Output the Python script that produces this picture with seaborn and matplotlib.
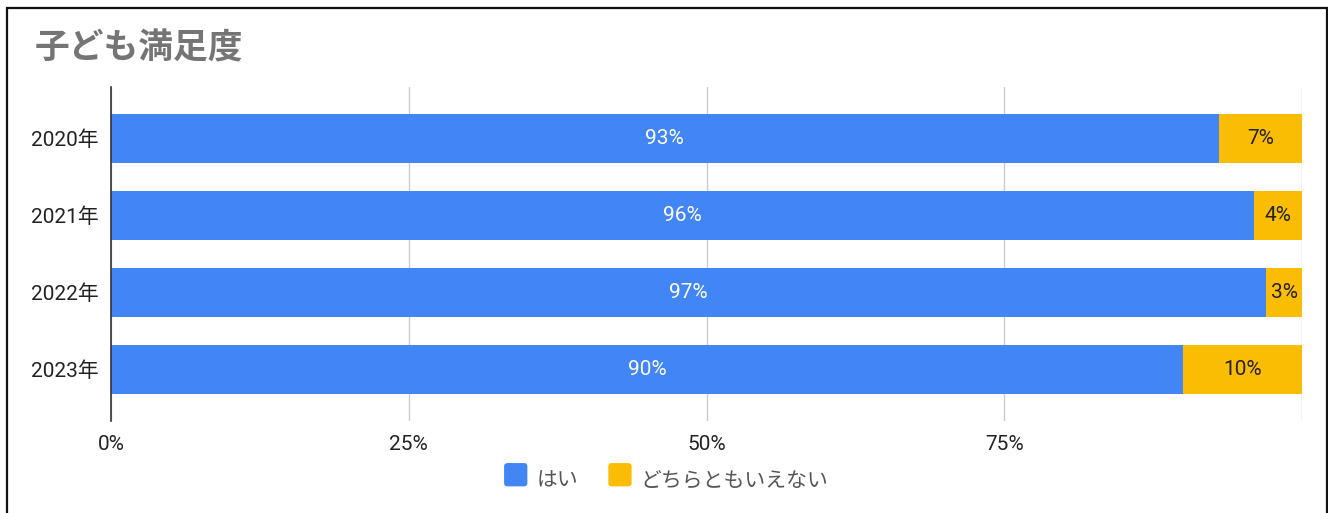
import matplotlib
matplotlib.use("Agg")
import matplotlib.pyplot as plt
import seaborn as sns
import pandas as pd
from matplotlib.patches import Rectangle, FancyBboxPatch
from matplotlib.legend_handler import HandlerPatch

years = ["2020年", "2021年", "2022年", "2023年"]
yes_vals = [93, 96, 97, 90]
neutral_vals = [7, 4, 3, 10]
series_names = ["はい", "どちらともいえない"]
xticks = [0, 25, 50, 75, 100]
xtick_labels = ["0%", "25%", "50%", "75%", ""]
title = "子ども満足度"

BLUE = "#4285F4"
YELLOW = "#FBBC04"

sns.set_theme(style="white")
FAM = ["Roboto", "Noto Sans CJK JP", "DejaVu Sans"]
plt.rcParams["font.family"] = FAM

df = pd.DataFrame({"year": years, "yes": yes_vals, "neutral": neutral_vals})
df["total"] = df["yes"] + df["neutral"]

fig = plt.figure(figsize=(13.28, 5.13), dpi=100)
ax = fig.add_axes([111 / 1328, 1 - 421 / 513, (1302 - 111) / 1328, (421 - 87) / 513])

sns.barplot(data=df, y="year", x="total", color=YELLOW, orient="h", width=0.64,
            ax=ax, saturation=1, zorder=3, linewidth=0)
sns.barplot(data=df, y="year", x="yes", color=BLUE, orient="h", width=0.64,
            ax=ax, saturation=1, zorder=4, linewidth=0)

n = len(years)
yes_bars = ax.patches[n:2 * n]
for i, b in enumerate(yes_bars):
    yv = yes_vals[i]
    nv = neutral_vals[i]
    cy = b.get_y() + b.get_height() / 2
    ax.text(yv / 2, cy, f"{yv}%", ha="center", va="center", color="white",
            fontsize=15, zorder=6)
    ax.text(yv + nv / 2, cy, f"{nv}%", ha="center", va="center", color="#222222",
            fontsize=15, zorder=6)

ax.set_xlim(0, 100)
ax.set_ylim(n - 1 + 0.67, -0.67)
ax.set_xticks(xticks)
ax.set_xticklabels(xtick_labels)
ax.set_xlabel("")
ax.set_ylabel("")
ax.tick_params(axis="x", length=0, pad=10, labelsize=15, labelcolor="#222222")
ax.tick_params(axis="y", length=0, pad=9, labelsize=15, labelcolor="#222222")
ax.grid(axis="x", color="#cccccc", linewidth=1, zorder=0)
for s in ["top", "right", "bottom"]:
    ax.spines[s].set_visible(False)
ax.spines["left"].set_color("#333333")
ax.spines["left"].set_linewidth(1.2)
ax.spines["left"].set_zorder(7)

fig.text(35 / 1328, 1 - 49 / 513, title, fontsize=25, fontweight="bold",
         color="#757575", ha="left", va="center")


class RoundHandler(HandlerPatch):
    def create_artists(self, legend, orig_handle, xdescent, ydescent, width,
                       height, fontsize, trans):
        s = height * 1.25
        p = FancyBboxPatch((xdescent + (width - s) / 2, ydescent + (height - s) / 2), s, s,
                           boxstyle="round,pad=0,rounding_size=%f" % (s * 0.15),
                           facecolor=orig_handle.get_facecolor(), edgecolor="none",
                           transform=trans)
        return [p]


handles = [Rectangle((0, 0), 1, 1, facecolor=BLUE), Rectangle((0, 0), 1, 1, facecolor=YELLOW)]
leg = fig.legend(handles, series_names, loc="center", bbox_to_anchor=(667 / 1328, 1 - 480 / 513),
                 ncol=2, frameon=False, fontsize=15, handlelength=1.0, handleheight=1.0,
                 handletextpad=0.5, columnspacing=1.5,
                 handler_map={Rectangle: RoundHandler()})
for t in leg.get_texts():
    t.set_color("#555555")

fig.patches.append(Rectangle((7 / 1328, -0.05), (1327 - 7) / 1328, 1 - 8 / 513 + 0.05,
                             transform=fig.transFigure, fill=False, edgecolor="#111111",
                             linewidth=1.6, clip_on=False))

fig.savefig("out.png", dpi=100)
